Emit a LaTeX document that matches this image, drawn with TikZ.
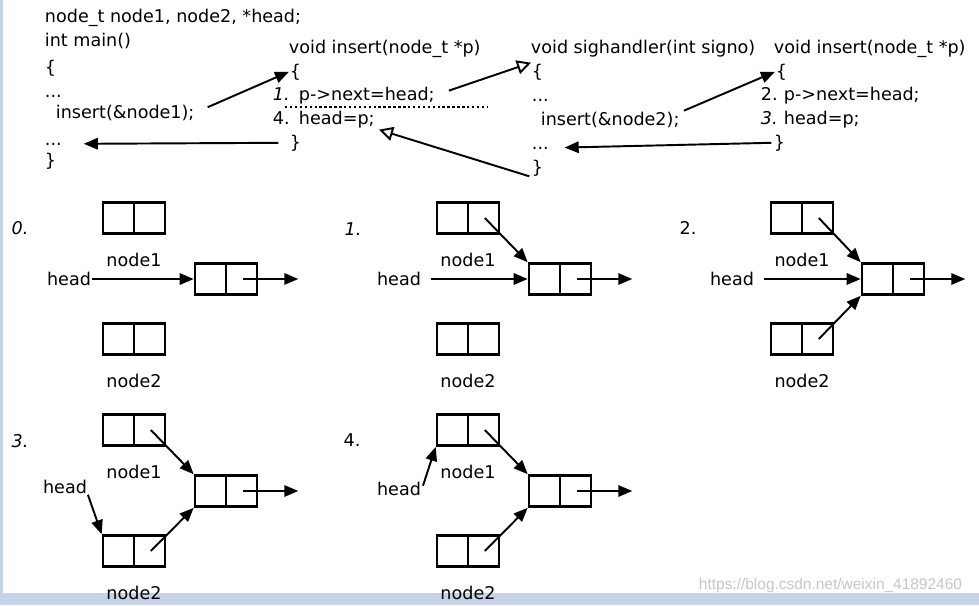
\documentclass[tikz,border=0pt]{standalone}
\usepackage{fontspec}
\setmainfont{DejaVu Sans}
\newfontfamily\urlfont{Liberation Sans}
\usetikzlibrary{positioning, arrows.meta}
\definecolor{framecol}{RGB}{198,210,230}

\begin{document}
\begin{tikzpicture}[x=0.02cm, y=-0.02cm, >={Triangle[length=8pt, width=6.5pt]}, line width=1.1pt,
		code/.style={anchor=base west, inner sep=0pt, font=\fontsize{10}{12}\selectfont},
		lbl/.style={inner sep=0pt, font=\fontsize{10}{12}\selectfont},
		stepnum/.style={inner sep=0pt, font=\fontsize{10}{12}\selectfont},
		listnode/.style={draw, line width=1.5pt, minimum width=1.24cm, minimum height=0.62cm, inner sep=0pt,
			path picture={\draw[line width=1.5pt] (path picture bounding box.north) -- (path picture bounding box.south);}},
		opentip/.style={-{Triangle[open, length=8pt, width=8pt]}}]
			% Frame
			\fill[white] (0,0) rectangle (979,605);
			\fill[framecol] (0,0) rectangle (3,605);
			\fill[framecol] (0,593) rectangle (979,605);

			% Code: main
			\node (Decl) [code] at (44,22) {node\_t node1, node2, *head;};
			\node (Main) [code] at (44,46) {int main()};
			\node (MainOpen) [code] at (44,73) {\{};
			\node (MainDots1) [code] at (44,97) {...};
			\node (Ins1) [code] at (55,118) {insert(\&node1);};
			\node (MainDots2) [code] at (44,145) {...};
			\node (MainClose) [code] at (44,166) {\}};

			% Code: insert (first call)
			\node (InsAHead) [code] at (288,53) {void insert(node\_t *p)};
			\node (InsAOpen) [code] at (289,77) {\{};
			\node (InsAStep1) [code] at (272,100) {\itshape 1.};
			\node (InsANext) [code] at (298,100) {p->next=head;};
			\node (InsAStep4) [code] at (272,124) {4.};
			\node (InsASet) [code] at (298,124) {head=p;};
			\node (InsAClose) [code] at (289,148) {\}};
			\draw[dotted, line width=1.4pt, dash pattern=on 1.4pt off 1.4pt] (285,107) -- (487,107);

			% Code: sighandler
			\node (SigHead) [code] at (530,53) {void sighandler(int signo)};
			\node (SigOpen) [code] at (531,77) {\{};
			\node (SigDots1) [code] at (531,101) {...};
			\node (Ins2) [code] at (540,125) {insert(\&node2);};
			\node (SigDots2) [code] at (531,149) {...};
			\node (SigClose) [code] at (531,173) {\}};

			% Code: insert (second call)
			\node (InsBHead) [code] at (773,53) {void insert(node\_t *p)};
			\node (InsBOpen) [code] at (775,77) {\{};
			\node (InsBStep2) [code] at (760,100) {2.};
			\node (InsBNext) [code] at (783,100) {p->next=head;};
			\node (InsBStep3) [code] at (760,124) {\itshape 3.};
			\node (InsBSet) [code] at (783,124) {head=p;};
			\node (InsBClose) [code] at (773,148) {\}};

			% Code arrows
			\draw[->] ([xshift=7pt, yshift=3pt]Ins1.east) -- (InsAOpen.west);
			\draw[->, shorten <=6pt, shorten >=12pt] (InsAClose.west) -- (MainDots2.east);
			\draw[opentip, shorten <=8pt] (InsANext.east) -- (SigOpen.north west);
			\draw[opentip, shorten <=1pt, shorten >=2pt] (SigClose.south west) -- (InsASet.south east);
			\draw[->] ([xshift=2pt]Ins2.north east) -- (InsBOpen.west);
			\draw[->, shorten <=1pt, shorten >=8.5pt] (InsBClose.west) -- (SigDots2.east);

			% Step 0
			\node (Num0) [stepnum] at (20,228) {\itshape 0.};
			\node (NodeA0) [listnode] at (134,218) {};
			\node (LblA0) [lbl, below=0.34cm of NodeA0] {node1};
			\node (Mid0) [listnode] at (226,279) {};
			\coordinate [right=0.8cm of Mid0] (Nil0);
			\node (Head0) [lbl] at (69,279) {head};
			\node (NodeB0) [listnode] at (134,339) {};
			\node (LblB0) [lbl, below=0.34cm of NodeB0] {node2};
			\draw[->] (Head0) -- (Mid0);
			\draw[->] ([xshift=-0.31cm]Mid0.east) -- (Nil0);

			% Step 1
			\node (Num1) [stepnum] at (353,229) {\itshape 1.};
			\node (NodeA1) [listnode] at (468,218) {};
			\node (LblA1) [lbl, below=0.34cm of NodeA1] {node1};
			\node (Mid1) [listnode] at (560,279) {};
			\coordinate [right=0.8cm of Mid1] (Nil1);
			\node (Head1) [lbl] at (399,279) {head};
			\node (NodeB1) [listnode] at (468,339) {};
			\node (LblB1) [lbl, below=0.34cm of NodeB1] {node2};
			\draw[->, shorten <=5pt] (Head1) -- (Mid1);
			\draw[->] ([xshift=-0.31cm]NodeA1.east) -- (Mid1.north west);
			\draw[->] ([xshift=-0.31cm]Mid1.east) -- (Nil1);

			% Step 2
			\node (Num2) [stepnum] at (688,228) {2.};
			\node (NodeA2) [listnode] at (802,218) {};
			\node (LblA2) [lbl, below=0.34cm of NodeA2] {node1};
			\node (Mid2) [listnode] at (893,279) {};
			\coordinate [right=0.8cm of Mid2] (Nil2);
			\node (Head2) [lbl] at (732,279) {head};
			\node (NodeB2) [listnode] at (802,339) {};
			\node (LblB2) [lbl, below=0.34cm of NodeB2] {node2};
			\draw[->, shorten <=5pt] (Head2) -- (Mid2);
			\draw[->] ([xshift=-0.31cm]NodeA2.east) -- (Mid2.north west);
			\draw[->] ([xshift=-0.31cm]NodeB2.east) -- (Mid2.south west);
			\draw[->] ([xshift=-0.31cm]Mid2.east) -- (Nil2);

			% Step 3
			\node (Num3) [stepnum] at (20,441) {\itshape 3.};
			\node (NodeA3) [listnode] at (134,430) {};
			\node (LblA3) [lbl, below=0.34cm of NodeA3] {node1};
			\node (Mid3) [listnode] at (226,491) {};
			\coordinate [right=0.8cm of Mid3] (Nil3);
			\node (Head3) [lbl] at (65,487) {head};
			\node (NodeB3) [listnode] at (134,551) {};
			\node (LblB3) [lbl, below=0.34cm of NodeB3] {node2};
			\draw[->] (Head3.south east) -- (NodeB3.north west);
			\draw[->] ([xshift=-0.31cm]NodeA3.east) -- (Mid3.north west);
			\draw[->] ([xshift=-0.31cm]NodeB3.east) -- (Mid3.south west);
			\draw[->] ([xshift=-0.31cm]Mid3.east) -- (Nil3);

			% Step 4
			\node (Num4) [stepnum] at (352,440) {4.};
			\node (NodeA4) [listnode] at (468,430) {};
			\node (LblA4) [lbl, below=0.34cm of NodeA4] {node1};
			\node (Mid4) [listnode] at (560,491) {};
			\coordinate [right=0.8cm of Mid4] (Nil4);
			\node (Head4) [lbl] at (399,489) {head};
			\node (NodeB4) [listnode] at (468,551) {};
			\node (LblB4) [lbl, below=0.34cm of NodeB4] {node2};
			\draw[->, shorten <=2pt] (Head4.east) -- (NodeA4.south west);
			\draw[->] ([xshift=-0.31cm]NodeA4.east) -- (Mid4.north west);
			\draw[->] ([xshift=-0.31cm]NodeB4.east) -- (Mid4.south west);
			\draw[->] ([xshift=-0.31cm]Mid4.east) -- (Nil4);

			% Watermark
			\node (Mark) [anchor=west, inner sep=0pt, font=\urlfont\fontsize{8.8}{10}\selectfont, text=black!22] at (698,585) {https://blog.csdn.net/weixin\_41892460};
		\end{tikzpicture}
\end{document}
